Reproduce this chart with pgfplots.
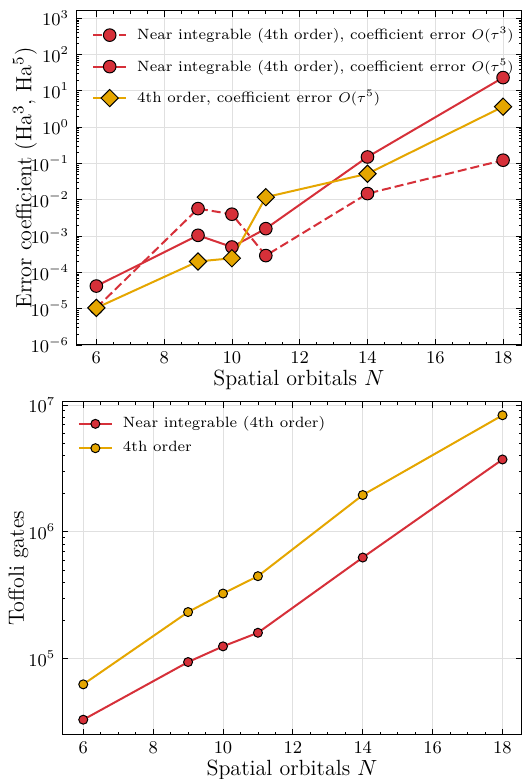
\documentclass[border=0pt]{standalone}
\usepackage{pgfplots}
\pgfplotsset{compat=1.18}
\definecolor{cred}{RGB}{214,48,57}
\definecolor{cyel}{RGB}{229,166,0}
\pgfplotsset{
 common/.style={scale only axis, tick align=inside, xmin=5.4, xmax=18.55,
  xtick={6,8,...,18}, minor x tick num=3, grid=major,
  major grid style={black!12, line width=0.4pt},
  axis line style={line width=0.5pt},
  every tick/.style={black, line width=0.4pt},
  major tick length=3pt, minor tick length=1.5pt,
  tick label style={font=\fontsize{8.6}{10}\selectfont},
  label style={font=\fontsize{11}{13}\selectfont},
  legend cell align=left,
  legend style={draw=none, fill=none, font=\fontsize{7.45}{9}\selectfont, anchor=north west, column sep=3pt},
  legend image code/.code={\draw[mark repeat=2,mark phase=2] plot coordinates {(0cm,0cm) (0.29cm,0cm) (0.58cm,0cm)};},
  xlabel={Spatial orbitals $N$},
  x label style={at={(axis description cs:0.5,-0.105)}, anchor=center},
 }
}
\begin{document}
\begin{tikzpicture}
\useasboundingbox (0,0) rectangle (261pt,389.5pt);
\begin{axis}[ymode=log, common, at={(38pt,217pt)}, anchor=south west, width=222.85pt, height=167pt,
  ymin=1e-6, ymax=1585,
  ytick={1e-6,1e-5,1e-4,1e-3,1e-2,1e-1,1,10,100,1000},
  ylabel={Error coefficient (Ha$^3$, Ha$^5$)},
  y label style={at={(axis description cs:-0.1144,0.5)}, anchor=center},
  legend style={at={(axis description cs:0.022,0.976)}, row sep=4pt},
]
\addplot[cred, line width=1pt, dash pattern=on 4.5pt off 2pt, mark=*, mark size=3.15pt, mark options={solid, fill=cred, draw=black, line width=0.5pt}]
 coordinates {(6,1.05e-5) (9,5.7e-3) (10,4.0e-3) (11,2.9e-4) (14,1.48e-2) (18,0.123)};
\addlegendentry{Near integrable (4th order), coefficient error $O(\tau^3)$}
\addplot[cred, line width=1pt, mark=*, mark size=3.15pt, mark options={solid, fill=cred, draw=black, line width=0.5pt}]
 coordinates {(6,4.2e-5) (9,1.05e-3) (10,5.0e-4) (11,1.6e-3) (14,0.151) (18,23.2)};
\addlegendentry{Near integrable (4th order), coefficient error $O(\tau^5)$}
\addplot[cyel, line width=1pt, mark=square*, mark size=3.05pt, mark options={solid, rotate=45, fill=cyel, draw=black, line width=0.5pt}]
 coordinates {(6,1.05e-5) (9,2.0e-4) (10,2.45e-4) (11,1.18e-2) (14,0.052) (18,3.66)};
\addlegendentry{4th order, coefficient error $O(\tau^5)$}
\end{axis}
\begin{axis}[ymode=log, common, at={(31.15pt,22pt)}, anchor=south west, width=229.7pt, height=166.65pt,
  ymin=2.5e4, ymax=1.062e7,
  ytick={1e5,1e6,1e7},
  ylabel={Toffoli gates},
  y label style={at={(axis description cs:-0.0958,0.5)}, anchor=center},
  legend style={at={(axis description cs:0.02,0.98)}, row sep=1.3pt},
]
\addplot[cred, line width=1pt, mark=*, mark size=2.25pt, mark options={solid, fill=cred, draw=black, line width=0.5pt}]
 coordinates {(6,3.3e4) (9,9.4e4) (10,1.25e5) (11,1.6e5) (14,6.27e5) (18,3.72e6)};
\addlegendentry{Near integrable (4th order)}
\addplot[cyel, line width=1pt, mark=*, mark size=2.25pt, mark options={solid, fill=cyel, draw=black, line width=0.5pt}]
 coordinates {(6,6.27e4) (9,2.33e5) (10,3.26e5) (11,4.47e5) (14,1.95e6) (18,8.3e6)};
\addlegendentry{4th order}
\end{axis}
\end{tikzpicture}
\end{document}
